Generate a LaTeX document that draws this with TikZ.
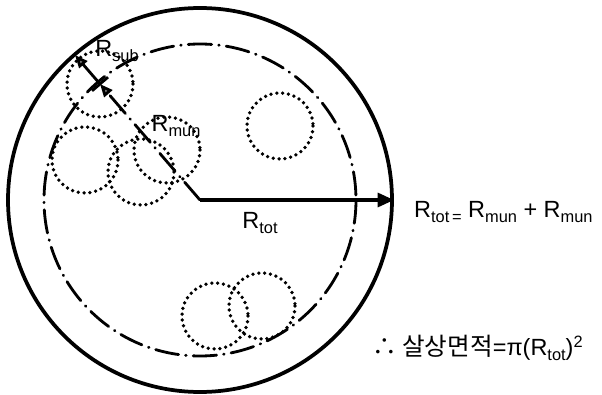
\documentclass[tikz,border=0pt]{standalone}
\usepackage{fontspec}
\setmainfont{Liberation Sans}
\newfontfamily\kofont{Noto Sans CJK KR}
\usetikzlibrary{arrows.meta,calc}
\newcommand{\Rlab}[1]{R\raisebox{-4pt}{\fontsize{14}{14}\selectfont #1}}

\begin{document}
\begin{tikzpicture}[x=0.03cm,y=-0.03cm,
  rim/.style={line width=3.2pt},
  dashdot/.style={line width=2.4pt,line cap=round,
    dash pattern=on 20pt off 6pt on 0.5pt off 6pt},
  dotcirc/.style={line width=3.2pt,line cap=round,
    dash pattern=on 0pt off 5pt},
  lab/.style={inner sep=0pt,font=\fontsize{20}{22}\selectfont}]
\useasboundingbox (0,0) rectangle (602,395);
\coordinate (O) at (200,200);
\coordinate (S) at (100,84);
\coordinate (Se) at (75,55);
\coordinate (E) at (394,200);
% circles
\draw[rim] (O) circle[radius=192];
\draw[dashdot] (O) circle[radius=156];
\foreach \cx/\cy in {100/84,85/160,141/172,167/150,280/126,215/316,262/306}
  \draw[dotcirc] (\cx,\cy) circle[radius=33];
% radii
\draw[dashdot,-{Triangle[fill=gray,length=11pt,width=9pt]}] (O) -- (S);
\draw[line width=2.4pt,-{Triangle[fill=gray,length=11pt,width=9pt]}] (S) -- (Se);
\draw[line width=2.4pt] ($(S)!9pt!90:(O)$) -- ($(S)!9pt!-90:(O)$);
\draw[line width=2.6pt,-{Triangle[length=14pt,width=12pt]}] (O) -- (E);
% labels
\node[lab] (rsub) at (117,51) {\Rlab{sub}};
\node[lab] (rmun) at (176,126) {\Rlab{mun}};
\node[lab] (rtot) at (260,223) {\Rlab{tot}};
\node[lab,anchor=west] (eq) at (414,212)
  {\Rlab{tot\,=}\ \Rlab{mun} + \Rlab{mun}};
\node[lab,anchor=west] (area) at (372,348)
  {{\kofont\fontsize{21}{22}\selectfont ∴ 살상면적}=π(\Rlab{tot})\raisebox{7pt}{\fontsize{14}{14}\selectfont 2}};
\end{tikzpicture}
\end{document}
